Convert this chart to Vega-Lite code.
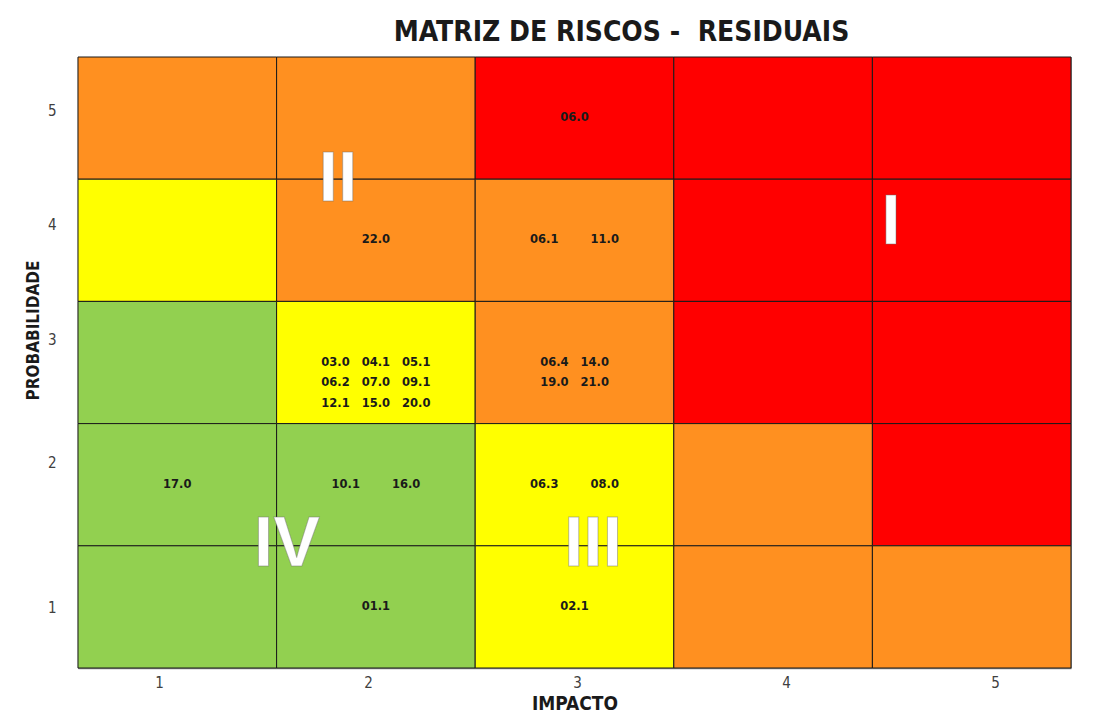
{
  "$schema": "https://vega.github.io/schema/vega-lite/v6.json",
  "width": 993,
  "height": 611,
  "autosize": {"type": "none"},
  "padding": {"left": 78, "top": 57, "right": 29, "bottom": 49},
  "background": "white",
  "title": {
    "text": "MATRIZ DE RISCOS -\u00a0\u00a0RESIDUAIS",
    "font": "Liberation Sans Narrow, DejaVu Sans Condensed, sans-serif",
    "fontSize": 28,
    "fontWeight": "bold",
    "color": "#1a1a1a",
    "anchor": "middle",
    "frame": "group",
    "baseline": "alphabetic",
    "offset": 17,
    "dx": 47,
    "dy": 29
  },
  "config": {
    "view": {"stroke": "#9a9a9a", "strokeWidth": 1},
    "axis": {
      "labelFont": "Liberation Sans Narrow, DejaVu Sans Condensed, sans-serif",
      "labelFontSize": 15,
      "labelColor": "#404040",
      "titleFont": "Liberation Sans Narrow, DejaVu Sans Condensed, sans-serif",
      "titleFontSize": 19,
      "titleFontWeight": "bold",
      "titleColor": "#1a1a1a",
      "grid": false,
      "ticks": false,
      "domainColor": "#8c8c8c",
      "domainWidth": 1.5,
      "zindex": 1
    }
  },
  "layer": [
    {
      "data": {
        "values": [
          {"impacto": 1, "probabilidade": 5, "nivel": "Alto", "riscos": ""},
          {"impacto": 2, "probabilidade": 5, "nivel": "Alto", "riscos": ""},
          {"impacto": 3, "probabilidade": 5, "nivel": "Extremo", "riscos": "06.0"},
          {"impacto": 4, "probabilidade": 5, "nivel": "Extremo", "riscos": ""},
          {"impacto": 5, "probabilidade": 5, "nivel": "Extremo", "riscos": ""},
          {"impacto": 1, "probabilidade": 4, "nivel": "Moderado", "riscos": ""},
          {"impacto": 2, "probabilidade": 4, "nivel": "Alto", "riscos": "22.0"},
          {"impacto": 3, "probabilidade": 4, "nivel": "Alto", "riscos": "06.1\u00a0\u00a0\u00a0\u00a0\u00a0\u00a0\u00a0\u00a011.0"},
          {"impacto": 4, "probabilidade": 4, "nivel": "Extremo", "riscos": ""},
          {"impacto": 5, "probabilidade": 4, "nivel": "Extremo", "riscos": ""},
          {"impacto": 1, "probabilidade": 3, "nivel": "Baixo", "riscos": ""},
          {"impacto": 2, "probabilidade": 3, "nivel": "Moderado", "riscos": "03.0\u00a0\u00a0\u00a004.1\u00a0\u00a0\u00a005.1\n06.2\u00a0\u00a0\u00a007.0\u00a0\u00a0\u00a009.1\n12.1\u00a0\u00a0\u00a015.0\u00a0\u00a0\u00a020.0"},
          {"impacto": 3, "probabilidade": 3, "nivel": "Alto", "riscos": "06.4\u00a0\u00a0\u00a014.0\n19.0\u00a0\u00a0\u00a021.0"},
          {"impacto": 4, "probabilidade": 3, "nivel": "Extremo", "riscos": ""},
          {"impacto": 5, "probabilidade": 3, "nivel": "Extremo", "riscos": ""},
          {"impacto": 1, "probabilidade": 2, "nivel": "Baixo", "riscos": "17.0"},
          {"impacto": 2, "probabilidade": 2, "nivel": "Baixo", "riscos": "10.1\u00a0\u00a0\u00a0\u00a0\u00a0\u00a0\u00a0\u00a016.0"},
          {"impacto": 3, "probabilidade": 2, "nivel": "Moderado", "riscos": "06.3\u00a0\u00a0\u00a0\u00a0\u00a0\u00a0\u00a0\u00a008.0"},
          {"impacto": 4, "probabilidade": 2, "nivel": "Alto", "riscos": ""},
          {"impacto": 5, "probabilidade": 2, "nivel": "Extremo", "riscos": ""},
          {"impacto": 1, "probabilidade": 1, "nivel": "Baixo", "riscos": ""},
          {"impacto": 2, "probabilidade": 1, "nivel": "Baixo", "riscos": "01.1"},
          {"impacto": 3, "probabilidade": 1, "nivel": "Moderado", "riscos": "02.1"},
          {"impacto": 4, "probabilidade": 1, "nivel": "Alto", "riscos": ""},
          {"impacto": 5, "probabilidade": 1, "nivel": "Alto", "riscos": ""}
        ]
      },
      "encoding": {
        "x": {"field": "impacto", "type": "ordinal", "axis": null, "scale": {"paddingInner": 0, "paddingOuter": 0}},
        "y": {"field": "probabilidade", "type": "ordinal", "sort": "descending", "axis": null, "scale": {"paddingInner": 0, "paddingOuter": 0}}
      },
      "layer": [
        {
          "mark": {"type": "rect", "stroke": "#1a1a1a", "strokeWidth": 1},
          "encoding": {
            "color": {
              "field": "nivel",
              "type": "nominal",
              "legend": null,
              "scale": {"domain": ["Baixo", "Moderado", "Alto", "Extremo"], "range": ["#92d050", "#ffff00", "#ff9020", "#ff0000"]}
            }
          }
        },
        {
          "mark": {"type": "text", "font": "DejaVu Sans", "fontSize": 11.5, "fontWeight": "bold", "color": "#1a1a1a", "lineBreak": "\n", "lineHeight": 20.5, "baseline": "middle", "align": "center"},
          "encoding": {"text": {"field": "riscos"}}
        }
      ]
    },
    {
      "data": {
        "values": [
          {"zona": "I", "impacto": 4.502, "probabilidade": 4.02},
          {"zona": "II", "impacto": 1.856, "probabilidade": 4.365},
          {"zona": "III", "impacto": 3.077, "probabilidade": 1.41},
          {"zona": "IV", "impacto": 1.612, "probabilidade": 1.41}
        ]
      },
      "mark": {"type": "text", "font": "Liberation Sans", "fontSize": 70, "fontWeight": "bold", "color": "white", "stroke": "#6b6b6b", "strokeWidth": 1, "strokeOpacity": 0.45, "baseline": "middle", "align": "center"},
      "encoding": {
        "x": {
          "field": "impacto", "type": "quantitative",
          "scale": {"domain": [0.6124, 5.364], "nice": false, "zero": false},
          "axis": {"values": [1, 2, 3, 4, 5], "format": "d", "title": "IMPACTO", "labelPadding": 7, "titleY": 35, "titleBaseline": "middle"}
        },
        "y": {
          "field": "probabilidade", "type": "quantitative",
          "scale": {"domain": [0.413, 5.365], "nice": false, "zero": false},
          "axis": {
            "values": [1, 2, 3, 4, 5], "format": "d", "title": "PROBABILIDADE", "labelPadding": 22,
            "labelOffset": {"condition": [
              {"test": "datum.value == 5", "value": 8},
              {"test": "datum.value == 3", "value": -9},
              {"test": "datum.value == 2", "value": -10},
              {"test": "datum.value == 1", "value": 12}
            ], "value": -1},
            "titleX": -45, "titleY": 273, "titleAngle": 270, "titleAlign": "center", "titleBaseline": "middle", "titleFontSize": 17
          }
        },
        "text": {"field": "zona"}
      }
    }
  ],
  "resolve": {"scale": {"x": "independent", "y": "independent"}}
}
